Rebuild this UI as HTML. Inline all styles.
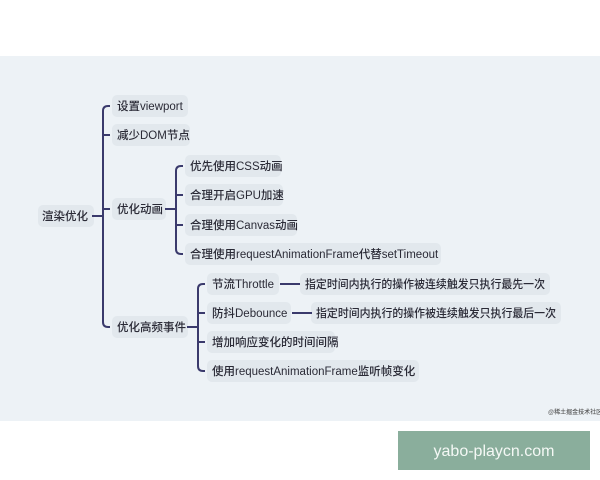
<!DOCTYPE html>
<html><head><meta charset="utf-8"><style>
html,body{margin:0;padding:0;background:#fff;width:600px;height:480px;overflow:hidden}
svg text{font-family:"Liberation Sans","Noto Sans CJK SC",sans-serif;font-size:11.5px;fill:#2a2a36;font-weight:500}
</style></head><body>
<svg width="600" height="480" xmlns="http://www.w3.org/2000/svg">
<rect x="0" y="56" width="600" height="365" fill="#edf2f6"/>
<g fill="#e2e8ed">
<rect x="38" y="205" width="56" height="22" rx="5"/>
<rect x="112" y="95" width="76" height="22" rx="5"/>
<rect x="112" y="124" width="78" height="22" rx="5"/>
<rect x="112" y="198" width="54" height="22" rx="5"/>
<rect x="112" y="316" width="76" height="22" rx="5"/>
<rect x="185" y="155" width="96" height="22" rx="5"/>
<rect x="185" y="184" width="98" height="22" rx="5"/>
<rect x="185" y="214" width="112" height="22" rx="5"/>
<rect x="185" y="243" width="256" height="22" rx="5"/>
<rect x="207" y="273" width="72" height="22" rx="5"/>
<rect x="207" y="302" width="84" height="22" rx="5"/>
<rect x="207" y="331" width="128" height="22" rx="5"/>
<rect x="207" y="360" width="212" height="22" rx="5"/>
<rect x="300" y="273" width="250" height="22" rx="5"/>
<rect x="311" y="302" width="250" height="22" rx="5"/>
</g>
<g fill="none" stroke="#3a3a6c" stroke-width="2">
<path d="M92 216H103"/>
<path d="M110 106H108Q103 106 103 111V322Q103 327 108 327H110"/>
<path d="M103 135H110M103 209H110"/>
<path d="M165 209H176"/>
<path d="M183 166H181Q176 166 176 171V249Q176 254 181 254H183"/>
<path d="M176 195H183M176 225H183"/>
<path d="M187 327H198"/>
<path d="M205 284H203Q198 284 198 289V366Q198 371 203 371H205"/>
<path d="M198 313H205M198 342H205"/>
<path d="M280 284H300M292 313H312"/>
</g>
<text x="42" y="220">渲染优化</text>
<text x="117" y="110">设置viewport</text>
<text x="117" y="139">减少DOM节点</text>
<text x="117" y="213">优化动画</text>
<text x="117" y="331">优化高频事件</text>
<text x="190" y="170">优先使用CSS动画</text>
<text x="190" y="199">合理开启GPU加速</text>
<text x="190" y="229">合理使用Canvas动画</text>
<text x="190" y="258">合理使用requestAnimationFrame代替setTimeout</text>
<text x="212" y="288">节流Throttle</text>
<text x="212" y="317">防抖Debounce</text>
<text x="212" y="346">增加响应变化的时间间隔</text>
<text x="212" y="375">使用requestAnimationFrame监听帧变化</text>
<text x="305" y="288" textLength="240" lengthAdjust="spacingAndGlyphs">指定时间内执行的操作被连续触发只执行最先一次</text>
<text x="316" y="317" textLength="240" lengthAdjust="spacingAndGlyphs">指定时间内执行的操作被连续触发只执行最后一次</text>
<text x="548" y="414" style="font-size:6px;fill:#555">@稀土掘金技术社区</text>
<rect x="398" y="431" width="192" height="39" fill="#8aae9c"/>
<text x="494" y="456" text-anchor="middle" style="font-size:16px;fill:#f4f8f5;font-weight:normal">yabo-playcn.com</text>
</svg>
</body></html>
